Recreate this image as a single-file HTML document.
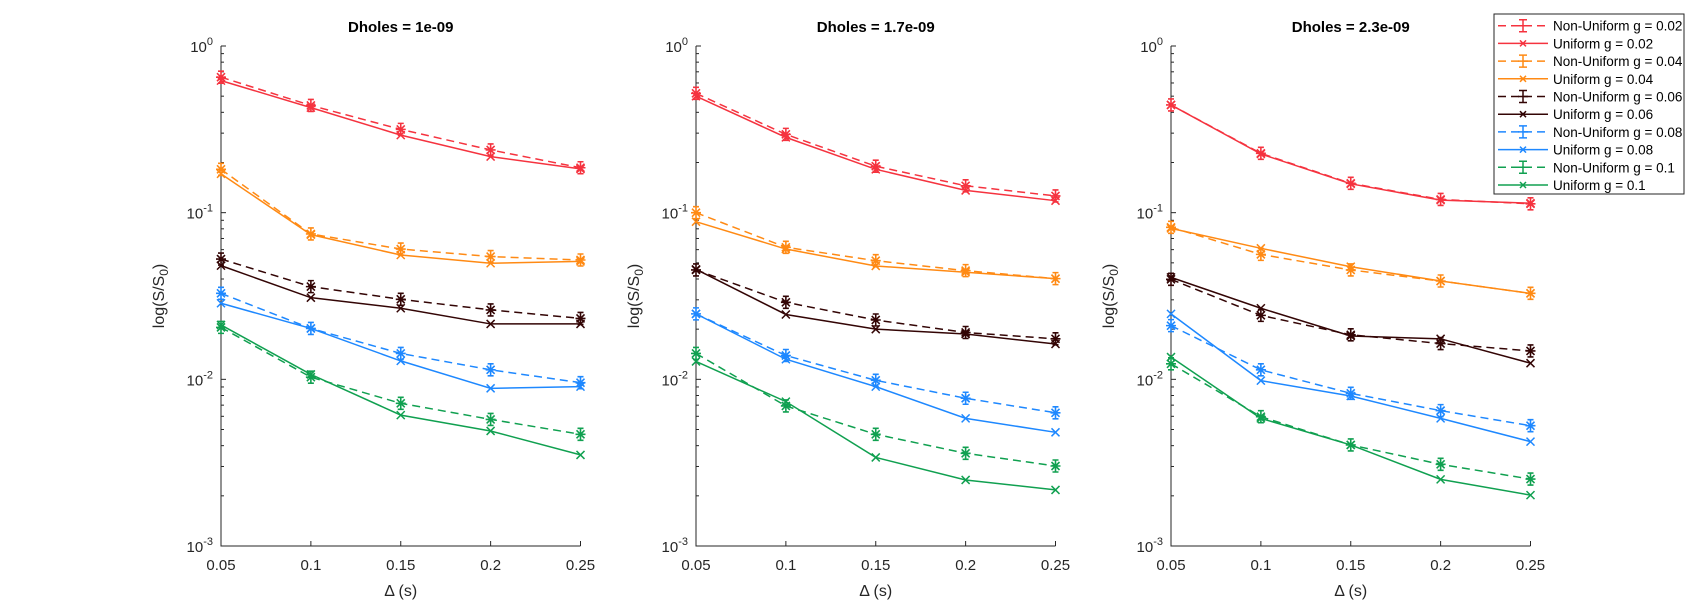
<!DOCTYPE html>
<html><head><meta charset="utf-8"><style>
html,body{margin:0;padding:0;background:#fff;}
svg{display:block;font-family:"Liberation Sans",Arial,sans-serif;}
</style></head><body>
<svg id="fig" width="1692" height="613" viewBox="0 0 1692 613" xmlns="http://www.w3.org/2000/svg"></svg>
<script>
const xValues = [0.05, 0.1, 0.15, 0.2, 0.25];
const xTickLabels = ["0.05","0.1","0.15","0.2","0.25"];
const yTickExps = [0, -1, -2, -3];
const panelTitles = ["Dholes = 1e-09","Dholes = 1.7e-09","Dholes = 2.3e-09"];
const seriesNames = ["Non-Uniform g = 0.02","Uniform g = 0.02","Non-Uniform g = 0.04","Uniform g = 0.04","Non-Uniform g = 0.06","Uniform g = 0.06","Non-Uniform g = 0.08","Uniform g = 0.08","Non-Uniform g = 0.1","Uniform g = 0.1"];
// panel 1
const p1_nu02=[0.65,0.44,0.316,0.238,0.186], p1_u02=[0.62,0.427,0.292,0.217,0.183];
const p1_nu04=[0.182,0.0745,0.0605,0.0545,0.052], p1_u04=[0.171,0.0738,0.0557,0.0497,0.051];
const p1_nu06=[0.0527,0.036,0.0302,0.0261,0.0232], p1_u06=[0.0481,0.0309,0.0267,0.0215,0.0215];
const p1_nu08=[0.0328,0.0202,0.0143,0.0114,0.00955], p1_u08=[0.0286,0.0202,0.0129,0.00883,0.00904];
const p1_nu10=[0.0205,0.0103,0.00718,0.00575,0.00468], p1_u10=[0.0212,0.0107,0.0061,0.0049,0.00352];
// panel 2
const p2_nu02=[0.52,0.295,0.19,0.145,0.126], p2_u02=[0.50,0.283,0.182,0.136,0.118];
const p2_nu04=[0.1,0.062,0.0515,0.0449,0.0402], p2_u04=[0.0883,0.0605,0.0479,0.0439,0.0402];
const p2_nu06=[0.0453,0.029,0.0227,0.0191,0.0175], p2_u06=[0.0457,0.0245,0.02,0.0187,0.0163];
const p2_nu08=[0.0247,0.0139,0.00986,0.0077,0.0063], p2_u08=[0.0247,0.0132,0.00904,0.00583,0.00481];
const p2_nu10=[0.0143,0.00692,0.00468,0.0036,0.00302], p2_u10=[0.0128,0.00735,0.0034,0.00249,0.00217];
// panel 3
const p3_nu02=[0.443,0.227,0.15,0.12,0.113], p3_u02=[0.443,0.225,0.149,0.119,0.114];
const p3_nu04=[0.0817,0.0562,0.0453,0.0389,0.0328], p3_u04=[0.0805,0.0611,0.0474,0.0389,0.0328];
const p3_nu06=[0.0398,0.0242,0.0185,0.0164,0.0148], p3_u06=[0.0409,0.0267,0.0182,0.0175,0.0125];
const p3_nu08=[0.021,0.0114,0.00824,0.00649,0.00527], p3_u08=[0.0247,0.00982,0.00794,0.00583,0.00423];
const p3_nu10=[0.0124,0.00597,0.00404,0.00309,0.00252], p3_u10=[0.0136,0.00583,0.00404,0.00251,0.00202];

const panelSeries=[
 [p1_nu02,p1_u02,p1_nu04,p1_u04,p1_nu06,p1_u06,p1_nu08,p1_u08,p1_nu10,p1_u10],
 [p2_nu02,p2_u02,p2_nu04,p2_u04,p2_nu06,p2_u06,p2_nu08,p2_u08,p2_nu10,p2_u10],
 [p3_nu02,p3_u02,p3_nu04,p3_u04,p3_nu06,p3_u06,p3_nu08,p3_u08,p3_nu10,p3_u10]];
const colors=["#f5333f","#f5333f","#ff8a14","#ff8a14","#330505","#330505","#1e88ff","#1e88ff","#10a050","#10a050"];

const NS="http://www.w3.org/2000/svg";
const svg=document.getElementById('fig');
function mk(tag,attrs,parent,text){const e=document.createElementNS(NS,tag);for(const k in attrs)e.setAttribute(k,attrs[k]);if(text!==undefined)e.textContent=text;(parent||svg).appendChild(e);return e;}
const lefts=[221,696,1171], W=359.5, TOP=46, BOT=546;
function ySc(v){return TOP+(0-Math.log10(v))/3*(BOT-TOP);}

function marker(g,kind,x,y,c){
 if(kind==='x'){
  mk('path',{d:`M${x-4},${y-4}L${x+4},${y+4}M${x-4},${y+4}L${x+4},${y-4}`,stroke:c,'stroke-width':1.5,fill:'none'},g);
 } else {
  mk('path',{d:`M${x-5},${y}L${x+5},${y}M${x},${y-6}L${x},${y+6}M${x-3},${y-6}L${x+3},${y-6}M${x-3},${y+6}L${x+3},${y+6}M${x-4},${y-4}L${x+4},${y+4}M${x-4},${y+4}L${x+4},${y-4}`,stroke:c,'stroke-width':1.6,fill:'none'},g);
 }
}

lefts.forEach((L,p)=>{
 const xSc=v=>L+(v-0.05)/0.2*W;
 const g=mk('g',{});
 
 
 const t=mk('text',{x:L+W/2,y:32,'text-anchor':'middle','font-size':15,'font-weight':'bold',fill:'#000'},g,panelTitles[p]);
 
 
 // axes
 const ax=mk('path',{d:`M${L},${TOP}L${L},${BOT}L${L+W},${BOT}`,stroke:'#262626','stroke-width':1,fill:'none'},g);
 
 
 // y ticks
 yTickExps.forEach(e=>{
  const y=ySc(Math.pow(10,e));
  mk('line',{x1:L,y1:y,x2:L+5,y2:y,stroke:'#262626'},g);
  const tl=mk('text',{x:L-8,y:y+6,'text-anchor':'end','font-size':15,fill:'#262626'},g);
  
  
  mk('tspan',{},tl,'10');
  mk('tspan',{dy:-7,'font-size':11},tl,String(e));
  if(e>-3){for(let m=2;m<=9;m++){const ym=ySc(m*Math.pow(10,e-1));mk('line',{x1:L,y1:ym,x2:L+3,y2:ym,stroke:'#262626'},g);}}
 });
 // x ticks
 xValues.forEach((v,i)=>{
  const x=xSc(v);
  mk('line',{x1:x,y1:BOT,x2:x,y2:BOT-5,stroke:'#262626'},g);
  const tl=mk('text',{x:x,y:570,'text-anchor':'middle','font-size':15,fill:'#262626'},g,xTickLabels[i]);
  
  
 });
 const xl=mk('text',{x:L+W/2,y:596,'text-anchor':'middle','font-size':16,fill:'#262626'},g,'Δ (s)');
 
 
 const yl=mk('text',{transform:`translate(${L-57},${(TOP+BOT)/2}) rotate(-90)`,'text-anchor':'middle','font-size':16,fill:'#262626'},g);
 
 
 mk('tspan',{},yl,'log(S/S');
 mk('tspan',{dy:4,'font-size':12},yl,'0');
 mk('tspan',{dy:-4},yl,')');
 // series
 panelSeries[p].forEach((arr,s)=>{
  const c=colors[s], nu=s%2===0;
  const sg=mk('g',{},g);
  
  
  const pts=arr.map((v,i)=>xSc(xValues[i])+','+ySc(v)).join(' ');
  const attrs={points:pts,fill:'none',stroke:c,'stroke-width':1.5};
  if(nu)attrs['stroke-dasharray']='8,5';
  mk('polyline',attrs,sg);
  arr.forEach((v,i)=>marker(sg,nu?'nu':'x',xSc(xValues[i]),ySc(v),c));
 });
});

// legend
const lg=mk('g',{});


mk('rect',{x:1494,y:14,width:190,height:180,fill:'#fff',stroke:'#262626','stroke-width':1},lg);
seriesNames.forEach((n,s)=>{
 const y=25.7+s*17.7, c=colors[s], nu=s%2===0;
 const eg=mk('g',{},lg);
 
 
 const a={x1:1498,y1:y,x2:1548,y2:y,stroke:c,'stroke-width':1.5};
 if(nu)a['stroke-dasharray']='8,5';
 mk('line',a,eg);
 if(nu){mk('path',{d:`M1523,${y-6}L1523,${y+6}M1519,${y-6}L1527,${y-6}M1519,${y+6}L1527,${y+6}M1518,${y}L1528,${y}`,stroke:c,'stroke-width':1.5,fill:'none'},eg);}
 else{mk('path',{d:`M1520,${y-3}L1526,${y+3}M1520,${y+3}L1526,${y-3}`,stroke:c,'stroke-width':1.5,fill:'none'},eg);}
 mk('text',{x:1553,y:y+5,'font-size':13.5,fill:'#000'},eg,n);
});
</script>
</body></html>
